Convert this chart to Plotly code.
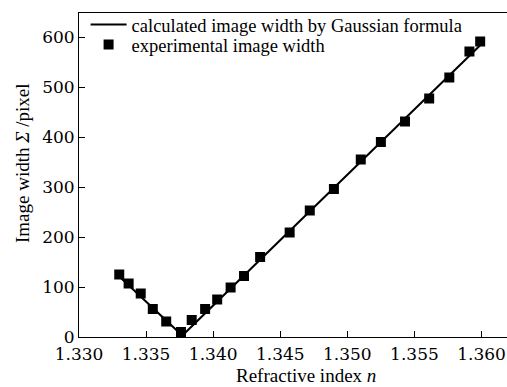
import plotly.graph_objects as go

n_exp = [1.3330, 1.3337, 1.3346, 1.3355, 1.3365, 1.3376, 1.3384, 1.3394, 1.3403,
         1.3413, 1.3423, 1.3435, 1.3457, 1.3472, 1.3490, 1.3510, 1.3525, 1.3543,
         1.3561, 1.3576, 1.3591, 1.3599]
w_exp = [125, 107, 87, 56, 31, 10, 34, 56, 75, 99, 122, 160, 209, 253, 296, 355,
         390, 431, 477, 519, 571, 591]

# Calculated (Gaussian formula) curve
n_calc = [1.3330, 1.3377, 1.3600]
w_calc = [121, 3, 586]

x_ticks = [1.330, 1.335, 1.340, 1.345, 1.350, 1.355, 1.360]
x_tick_text = ["1.330", "1.335", "1.340", "1.345", "1.350", "1.355", "1.360"]
y_ticks = [0, 100, 200, 300, 400, 500, 600]

TEXT_FONT = "Liberation Serif"
NUM_FONT = "DejaVu Serif"

fig = go.Figure()
fig.add_trace(go.Scatter(
    x=n_calc, y=w_calc, mode="lines",
    line=dict(color="black", width=2),
    name="calculated image width by Gaussian formula",
    legend="legend",
))
fig.add_trace(go.Scatter(
    x=n_exp, y=w_exp, mode="markers",
    marker=dict(symbol="square", color="black", size=10, line=dict(width=0)),
    name="experimental image width",
    legend="legend2",
))

legend_common = dict(
    xanchor="left", yanchor="middle",
    bgcolor="rgba(0,0,0,0)",
    font=dict(family=TEXT_FONT, size=18.5, color="black"),
    itemwidth=36,
)

fig.update_layout(
    width=507, height=387,
    margin=dict(l=79, r=0, t=13, b=50),
    paper_bgcolor="white", plot_bgcolor="white",
    font=dict(family=TEXT_FONT, color="black"),
    showlegend=True,
    legend=dict(x=0.0154, y=(337 - 25) / 324, **legend_common),
    legend2=dict(x=0.0154, y=(337 - 45) / 324, **legend_common),
    xaxis=dict(
        range=[1.330, 1.3619],
        tickvals=x_ticks, ticktext=x_tick_text,
        ticks="inside", ticklen=6, tickcolor="black", tickwidth=1,
        ticklabelstandoff=2,
        showline=True, linecolor="black", linewidth=1, mirror=True,
        showgrid=False, zeroline=False,
        tickfont=dict(family=NUM_FONT, size=17, color="black"),
    ),
    yaxis=dict(
        range=[0, 648],
        tickvals=y_ticks,
        ticks="inside", ticklen=6, tickcolor="black", tickwidth=1,
        showline=True, linecolor="black", linewidth=1,
        showgrid=False, zeroline=False,
        tickfont=dict(family=NUM_FONT, size=17, color="black"),
    ),
    annotations=[
        dict(text="Refractive index <i>n</i>", xref="paper", yref="paper",
             x=0.530, y=0, yshift=-38, xanchor="center", yanchor="middle",
             showarrow=False, font=dict(family=TEXT_FONT, size=19, color="black")),
        dict(text="Image width <i>Σ</i> /pixel", xref="paper", yref="paper",
             x=0, xshift=-57, y=0.537, xanchor="center", yanchor="middle",
             textangle=-90, showarrow=False,
             font=dict(family=TEXT_FONT, size=19, color="black")),
    ],
)

fig.write_html("out.html")
